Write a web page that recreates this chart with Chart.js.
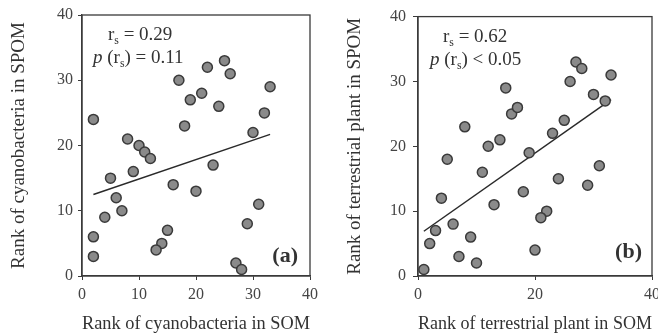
<!DOCTYPE html>
<html>
<head>
<meta charset="utf-8">
<script src="https://cdn.jsdelivr.net/npm/chart.js@4"></script>
<style>
html,body{margin:0;padding:0;background:#fff;overflow:hidden;width:658px;height:335px;}
.box{position:absolute;top:0;height:335px;overflow:visible;}
</style>
</head>
<body>
<div class="box" style="left:0;width:330px"><canvas id="ca"></canvas></div>
<div class="box" style="left:330px;width:340px"><canvas id="cb"></canvas></div>
<script>
// Panel (a): cyanobacteria
const cyanoSOM  = [2,17,22,25,26,33,19,21,24,18,32,30,8,10,11,12,23,9,5,16,20,6,7,31,4,29,2,15,14,13,2,27,28];
const cyanoSPOM = [24,30,32,33,31,29,27,28,26,23,25,22,21,20,19,18,17,16,15,14,13,12,10,11,9,8,6,7,5,4,3,2,1];
const cyanoTrendX = [2,33];
const cyanoTrendY = [12.5,21.7];
// Panel (b): terrestrial plant
const plantSOM  = [5,8,12,14,15,16,17,19,23,25,26,27,28,30,32,33,11,31,24,29,18,4,13,22,21,6,3,9,2,20,7,10,1];
const plantSPOM = [18,23,20,21,29,25,26,19,22,24,30,33,32,28,27,31,16,17,15,14,13,12,11,10,9,8,7,6,5,4,3,2,1];
const plantTrendX = [1,33];
const plantTrendY = [6.9,27.2];
// Axis labels / annotation texts
const titlesA = {x:'Rank of cyanobacteria in SOM', y:'Rank of cyanobacteria in SPOM'};
const titlesB = {x:'Rank of terrestrial plant in SOM', y:'Rank of terrestrial plant in SPOM'};
const statsA = {r:'0.29', rel:'=', p:'0.11', tag:'(a)'};
const statsB = {r:'0.62', rel:'<', p:'0.05', tag:'(b)'};

const SERIF = '"Liberation Serif", "Times New Roman", serif';
const INK = '#333';

function pts(xs, ys){ return xs.map((x,i)=>({x:x, y:ys[i]})); }

function drawRuns(ctx, x, y, runs, size){
  for(const r of runs){
    const fs = r.sub ? size*0.62 : size;
    ctx.font = (r.italic?'italic ':'') + fs + 'px ' + SERIF;
    const dy = r.sub ? size*0.22 : 0;
    ctx.fillText(r.t, x, y+dy);
    x += ctx.measureText(r.t).width;
  }
}

function makeChart(id, xs, ys, tx, ty, titles, stats, cfg){
  const annot = {
    id:'annot'+id,
    beforeDatasetsDraw(chart){
      const ctx = chart.ctx, a = chart.chartArea;
      ctx.save();
      ctx.strokeStyle = '#3a3a3a';
      ctx.lineWidth = 1.3;
      ctx.strokeRect(a.left, a.top, a.right-a.left, a.bottom-a.top);
      ctx.restore();
    },
    afterDraw(chart){
      const ctx = chart.ctx, a = chart.chartArea;
      ctx.save();
      ctx.fillStyle = INK;
      ctx.textBaseline = 'alphabetic';
      ctx.textAlign = 'left';
      drawRuns(ctx, a.left+cfg.rX, a.top+25, [{t:'r'},{t:'s',sub:true},{t:' = '+stats.r}], 19);
      drawRuns(ctx, a.left+cfg.pX, a.top+48, [{t:'p',italic:true},{t:' (r'},{t:'s',sub:true},{t:') '+stats.rel+' '+stats.p}], 19);
      ctx.font = 'bold 22px ' + SERIF;
      ctx.textAlign = 'right';
      ctx.fillText(stats.tag, a.right-cfg.tagR, a.bottom-cfg.tagB);
      ctx.restore();
    }
  };
  return new Chart(document.getElementById(id), {
    type:'scatter',
    data:{datasets:[
      {type:'line', data:pts(tx,ty), borderColor:'#2a2a2a', borderWidth:1.5, pointRadius:0, fill:false, order:1},
      {data:pts(xs,ys), backgroundColor:'#8a8a8a', borderColor:'#3a3a3a', borderWidth:1.5, pointRadius:5, pointHoverRadius:5, order:0}
    ]},
    options:{
      responsive:false, animation:false, maintainAspectRatio:false,
      events:[],
      layout:{padding:{left:0,right:cfg.padR,top:cfg.padT,bottom:0}},
      plugins:{legend:{display:false}, tooltip:{enabled:false}},
      scales:{
        x:{type:'linear', min:0, max:40,
          ticks:{stepSize:cfg.xStep, color:'#444', font:{family:SERIF,size:16}, padding:5},
          grid:{display:true, drawOnChartArea:false, drawTicks:true, tickLength:4, color:'#3a3a3a'},
          border:{display:true, color:'#3a3a3a', width:1.3},
          title:{display:true, text:titles.x, color:INK, font:{family:SERIF,size:19}, padding:{top:0,bottom:0}},
          afterFit(s){ s.height = 59; }
        },
        y:{type:'linear', min:0, max:40,
          ticks:{stepSize:10, color:'#444', font:{family:SERIF,size:16}, padding:cfg.yPad},
          grid:{display:true, drawOnChartArea:false, drawTicks:true, tickLength:cfg.yTick, color:'#3a3a3a'},
          border:{display:true, color:'#3a3a3a', width:1.3},
          title:{display:true, text:titles.y, color:INK, font:{family:SERIF,size:19}, padding:{top:cfg.yTitlePad,bottom:0}},
          afterFit(s){ s.width = cfg.yW; }
        }
      }
    },
    plugins:[annot]
  });
}

function sizeCanvas(id, w){
  const c = document.getElementById(id);
  c.width = w; c.height = 335;
  c.style.width = w+'px'; c.style.height = '335px';
}
sizeCanvas('ca', 330); sizeCanvas('cb', 340);

makeChart('ca', cyanoSOM, cyanoSPOM, cyanoTrendX, cyanoTrendY, titlesA, statsA,
  {padR:20, padT:15, yW:82, xStep:10, yPad:5, yTick:4, yTitlePad:8, rX:26, pX:11, tagR:12, tagB:14});
makeChart('cb', plantSOM, plantSPOM, plantTrendX, plantTrendY, titlesB, statsB,
  {padR:18, padT:16, yW:88, xStep:20, yPad:7, yTick:5, yTitlePad:14, rX:25, pX:12, tagR:10, tagB:18});
</script>
</body>
</html>
